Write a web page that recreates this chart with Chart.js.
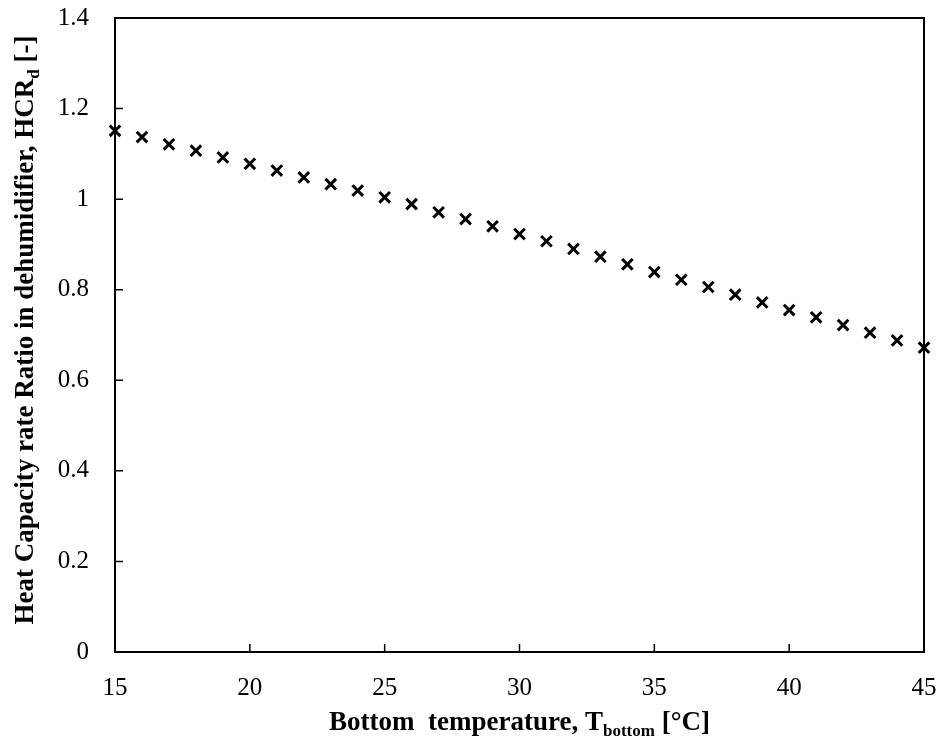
<!DOCTYPE html>
<html>
<head>
<meta charset="utf-8">
<script src="https://cdn.jsdelivr.net/npm/chart.js@4"></script>
<style>
  html, body { margin: 0; padding: 0; background: #fff; }
  #wrap { width: 943px; height: 748px; }
</style>
</head>
<body>
<div id="wrap"><canvas id="c" width="943" height="748"></canvas></div>
<script>
const temps = [15, 16, 17, 18, 19, 20, 21, 22, 23, 24, 25, 26, 27, 28, 29, 30,
  31, 32, 33, 34, 35, 36, 37, 38, 39, 40, 41, 42, 43, 44, 45];
const hcr = [1.151, 1.137, 1.121, 1.107, 1.092, 1.078, 1.063, 1.048, 1.033, 1.019,
  1.004, 0.989, 0.971, 0.956, 0.940, 0.923, 0.907, 0.890, 0.873, 0.856, 0.839,
  0.822, 0.806, 0.789, 0.772, 0.755, 0.739, 0.722, 0.705, 0.688, 0.672];
const xTicks = [15, 20, 25, 30, 35, 40, 45];
const yTicks = [0, 0.2, 0.4, 0.6, 0.8, 1, 1.2, 1.4];

const serif = "'Liberation Serif', 'DejaVu Serif', serif";

// draws text with one subscript part: [before, sub, after]
function subText(ctx, parts, x, y, size, subSize, subDrop) {
  const big = "bold " + size + "px " + serif;
  const small = "bold " + subSize + "px " + serif;
  ctx.font = big;
  const w1 = ctx.measureText(parts[0]).width;
  const w3 = ctx.measureText(parts[2]).width;
  ctx.font = small;
  const w2 = ctx.measureText(parts[1]).width;
  const x0 = x - (w1 + w2 + w3) / 2;
  ctx.font = big;
  ctx.fillText(parts[0], x0, y);
  ctx.font = small;
  ctx.fillText(parts[1], x0 + w1, y + subDrop);
  ctx.font = big;
  ctx.fillText(parts[2], x0 + w1 + w2, y);
}

// frame, inward ticks and the axis titles
const framePlugin = {
  id: "frame",
  afterDraw(chart) {
    const { ctx, chartArea: a, scales } = chart;
    ctx.save();
    ctx.strokeStyle = "#000";
    ctx.lineWidth = 2;
    ctx.strokeRect(a.left, a.top, a.right - a.left, a.bottom - a.top);
    ctx.lineWidth = 1.5;
    ctx.beginPath();
    yTicks.forEach(v => {
      const y = scales.y.getPixelForValue(v);
      ctx.moveTo(a.left, y); ctx.lineTo(a.left + 8, y);
    });
    xTicks.forEach(v => {
      const x = scales.x.getPixelForValue(v);
      ctx.moveTo(x, a.bottom); ctx.lineTo(x, a.bottom - 8);
    });
    ctx.stroke();

    ctx.fillStyle = "#000";
    ctx.textBaseline = "alphabetic";
    subText(ctx, ["Bottom  temperature, T", "bottom", " [\u00B0C]"],
      (a.left + a.right) / 2, 730, 27, 17, 6);

    ctx.translate(33, (a.top + a.bottom) / 2 - 5);
    ctx.rotate(-Math.PI / 2);
    subText(ctx, ["Heat Capacity rate Ratio in dehumidifier, HCR", "d", " [-]"],
      0, 0, 27, 17, 6);
    ctx.restore();
  }
};

new Chart(document.getElementById("c").getContext("2d"), {
  type: "scatter",
  data: {
    datasets: [{
      data: temps.map((t, i) => ({ x: t, y: hcr[i] })),
      pointStyle: "crossRot",
      pointRadius: 7.5,
      pointHoverRadius: 7.5,
      borderColor: "#000",
      borderWidth: 3,
      clip: false
    }]
  },
  options: {
    responsive: false,
    animation: false,
    layout: { padding: { top: 18, right: 19, left: 0, bottom: 0 } },
    plugins: { legend: { display: false }, tooltip: { enabled: false } },
    scales: {
      x: {
        type: "linear",
        min: 15, max: 45,
        afterBuildTicks: s => { s.ticks = xTicks.map(v => ({ value: v })); },
        afterFit: s => { s.height = 96; s.paddingLeft = 0; s.paddingRight = 0; },
        grid: { display: false },
        border: { display: false },
        ticks: { color: "#000", padding: 13, font: { family: serif, size: 25 } }
      },
      y: {
        min: 0, max: 1.4,
        afterBuildTicks: s => { s.ticks = yTicks.map(v => ({ value: v })); },
        afterFit: s => { s.width = 115; s.paddingTop = 0; s.paddingBottom = 0; },
        grid: { display: false },
        border: { display: false },
        ticks: {
          color: "#000", padding: 18, font: { family: serif, size: 25 },
          callback: v => String(Math.round(v * 10) / 10)
        }
      }
    }
  },
  plugins: [framePlugin]
});
</script>
</body>
</html>
